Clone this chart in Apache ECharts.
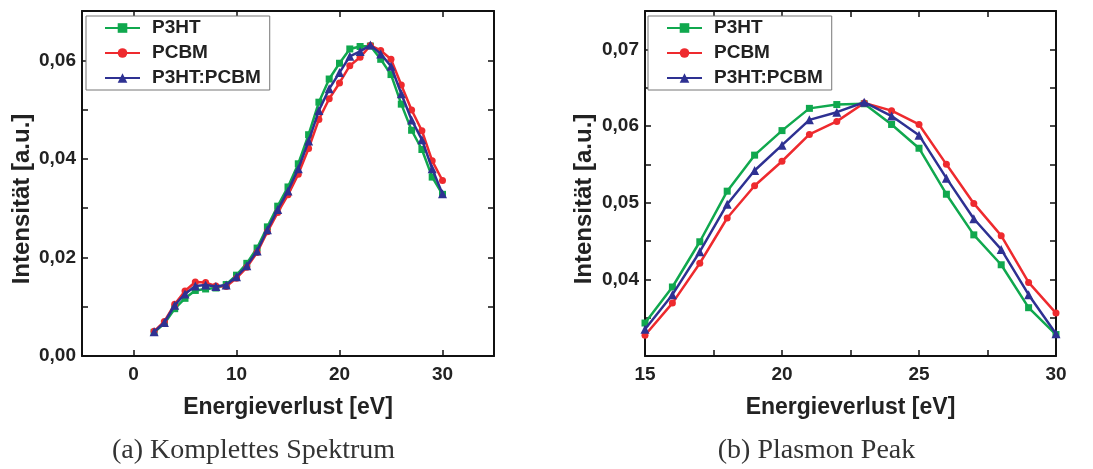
<!DOCTYPE html>
<html>
<head>
<meta charset="utf-8">
<script src="https://cdn.jsdelivr.net/npm/echarts@6/dist/echarts.min.js"></script>
<style>html,body{margin:0;padding:0;background:#fff}#c{width:1093px;height:469px}</style>
</head>
<body>
<div id="c"></div>
<script>
// Data (energy loss in eV, intensity in a.u.)
const energy = [2,3,4,5,6,7,8,9,10,11,12,13,14,15,16,17,18,19,20,21,22,23,24,25,26,27,28,29,30];
const p3ht  = [0.0048,0.0066,0.0096,0.0117,0.0133,0.0136,0.0138,0.0145,0.0164,0.0188,0.0219,0.0262,0.0304,0.0343,0.0390,0.0449,0.0515,0.0562,0.0594,0.0623,0.0628,0.0629,0.0602,0.0571,0.0511,0.0458,0.0419,0.0363,0.0328];
const pcbm  = [0.0050,0.0070,0.0105,0.0132,0.0150,0.0149,0.0142,0.0141,0.0158,0.0180,0.0210,0.0252,0.0291,0.0327,0.0369,0.0421,0.0480,0.0522,0.0554,0.0589,0.0606,0.0630,0.0620,0.0602,0.0550,0.0499,0.0457,0.0396,0.0356];
const blend = [0.0049,0.0068,0.0103,0.0126,0.0142,0.0144,0.0141,0.0144,0.0161,0.0183,0.0213,0.0256,0.0297,0.0335,0.0380,0.0436,0.0498,0.0542,0.0575,0.0608,0.0618,0.0631,0.0613,0.0588,0.0532,0.0479,0.0439,0.0380,0.0329];
const seriesNames = ['P3HT','PCBM','P3HT:PCBM'];

// Tick labels
const leftXTicks  = [0,10,20,30];
const leftYTicks  = [0,0.01,0.02,0.03,0.04,0.05,0.06,0.07];
const leftYLabels = [0,0.02,0.04,0.06];
const rightXTicks = [15,17.5,20,22.5,25,27.5,30];
const rightXLabels= [15,20,25,30];
const rightYTicks = [0.035,0.04,0.045,0.05,0.055,0.06,0.065,0.07];
const rightYLabels= [0.04,0.05,0.06,0.07];

const captions = ['(a) Komplettes Spektrum','(b) Plasmon Peak'];
const xTitle = 'Energieverlust [eV]';
const yTitle = 'Intensität [a.u.]';

const colors = ['#10a84e','#ee2a2e','#2e3192'];
const symbols = ['rect','circle','triangle'];
const symbolSizes = [7,7,9];
const allValues = [p3ht, pcbm, blend];

const lblFont = {fontSize:19, fontWeight:'bold', color:'#222', fontFamily:'"Liberation Sans", Arial, sans-serif'};
const fmtY = v => v.toFixed(2).replace('.', ',');
const lineStyleAxis = {color:'#111', width:2};

function xAxisPair(grid, min, max, ticks, labels) {
  const base = {gridIndex:grid, type:'value', min:min, max:max, splitLine:{show:false},
    axisLine:{onZero:false, lineStyle:lineStyleAxis},
    axisTick:{inside:true, length:6, customValues:ticks, lineStyle:{color:'#111', width:1.5}}};
  return [
    Object.assign({}, base, {position:'bottom', axisLabel:Object.assign({customValues:labels, margin:9}, lblFont)}),
    Object.assign({}, base, {position:'top', axisLabel:{show:false}})
  ];
}
function yAxisPair(grid, min, max, ticks, labels) {
  const base = {gridIndex:grid, type:'value', min:min, max:max, splitLine:{show:false},
    axisLine:{onZero:false, lineStyle:lineStyleAxis},
    axisTick:{inside:true, length:6, customValues:ticks, lineStyle:{color:'#111', width:1.5}}};
  return [
    Object.assign({}, base, {position:'left', axisLabel:Object.assign({customValues:labels, margin:6, formatter:fmtY}, lblFont)}),
    Object.assign({}, base, {position:'right', axisLabel:{show:false}})
  ];
}

function makeSeries(xIdx, yIdx, minX) {
  return seriesNames.map((name, i) => ({
    name: name, type:'line', xAxisIndex:xIdx, yAxisIndex:yIdx,
    data: energy.map((e, k) => [e, allValues[i][k]]).filter(d => d[0] >= minX),
    symbol: symbols[i], symbolSize: symbolSizes[i], showAllSymbol:true,
    lineStyle:{color:colors[i], width:2.5}, itemStyle:{color:colors[i]},
    emphasis:{disabled:true}, animation:false, z: 2 + i
  }));
}

function legendAt(left) {
  return {left:left, top:16, orient:'vertical', data:seriesNames,
    itemWidth:35, itemHeight:12, itemGap:5,
    padding:[2,9,2,18], borderColor:'#777', borderWidth:1, backgroundColor:'#fff',
    textStyle:Object.assign({lineHeight:20, padding:[0,0,0,7]}, lblFont)};
}

const titleFont = 'bold 23px "Liberation Sans", Arial, sans-serif';
const yTitleFont = 'bold 24px "Liberation Sans", Arial, sans-serif';
const capFont = '28px "Liberation Serif", "Times New Roman", serif';
function txt(x, y, text, font, fill, rot) {
  return {type:'text', x:x, y:y, rotation:rot || 0,
    style:{text:text, font:font, fill:fill, align:'center', verticalAlign:'middle', textAlign:'center', textVerticalAlign:'middle'}};
}

const option = {
  animation:false,
  backgroundColor:'#fff',
  grid:[
    {left:82, top:11, width:412, height:345},
    {left:645, top:11, width:411, height:345}
  ],
  xAxis: [].concat(xAxisPair(0, -5, 35, leftXTicks, leftXTicks), xAxisPair(1, 15, 30, rightXTicks, rightXLabels)),
  yAxis: [].concat(yAxisPair(0, 0, 0.07, leftYTicks, leftYLabels), yAxisPair(1, 0.03, 0.075, rightYTicks, rightYLabels)),
  legend: [legendAt(86), legendAt(648)],
  series: [].concat(makeSeries(0, 0, -Infinity), makeSeries(2, 2, 15)),
  graphic: [
    txt(288, 408, xTitle, titleFont, '#222'),
    txt(850.5, 408, xTitle, titleFont, '#222'),
    txt(22, 199, yTitle, yTitleFont, '#222', Math.PI/2),
    txt(584, 199, yTitle, yTitleFont, '#222', Math.PI/2),
    txt(253.5, 451, captions[0], capFont, '#333'),
    txt(816.5, 451, captions[1], capFont, '#333')
  ]
};
const chart = echarts.init(document.getElementById('c'), null, {renderer:'canvas'});
chart.setOption(option);
</script>
</body>
</html>
